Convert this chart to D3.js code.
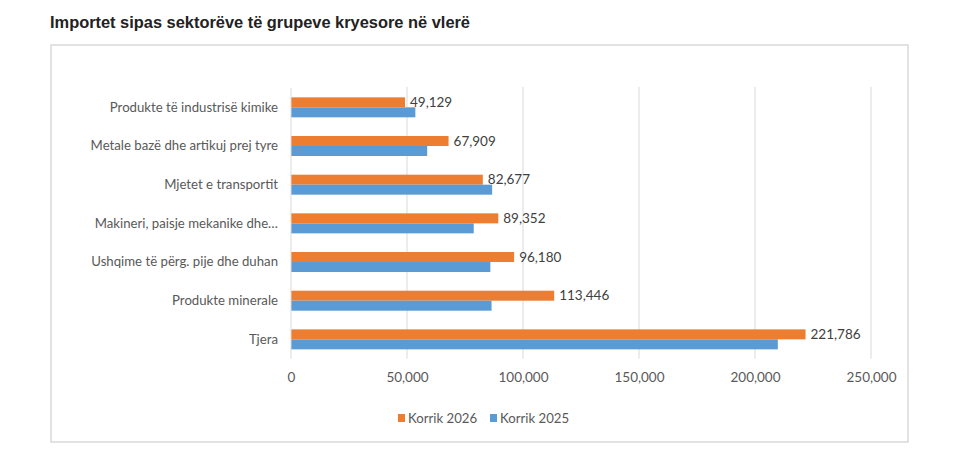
<!DOCTYPE html>
<html><head><meta charset="utf-8">
<script src="https://cdn.jsdelivr.net/npm/d3@7"></script>
<style>
body{margin:0;background:#fff;}
svg{display:block;}
</style></head>
<body>
<svg id="c" width="980" height="463"></svg>
<script>
const title = "Importet sipas sektorëve të grupeve kryesore në vlerë";
const categories = ["Produkte të industrisë kimike","Metale bazë dhe artikuj prej tyre","Mjetet e transportit","Makineri, paisje mekanike dhe…","Ushqime të përg. pije dhe duhan","Produkte minerale","Tjera"];
const seriesNames = ["Korrik 2026","Korrik 2025"];
const values2026 = [49129,67909,82677,89352,96180,113446,221786];
const values2025 = [53600,58700,86700,78760,85930,86450,209840];
const xTicks = [0,50000,100000,150000,200000,250000];
const colors = ["#ED7D31","#5B9BD5"];

const svg = d3.select("#c");
const font = "Lato, 'Open Sans', sans-serif";

svg.append("text").attr("x",50).attr("y",28).text(title)
  .attr("font-family","'Liberation Sans', Arial, sans-serif").attr("font-weight","bold")
  .attr("font-size",16.4).attr("fill","#222");

svg.append("rect").attr("x",51).attr("y",45).attr("width",857).attr("height",397)
  .attr("fill","none").attr("stroke","#d9d9d9").attr("stroke-width",1.5);

const x = d3.scaleLinear().domain([0,250000]).range([291,871]);
const y = d3.scaleBand().domain(categories).range([88,358.7]).paddingInner(0.483).paddingOuter(0.2415);
const ys = d3.scaleBand().domain(seriesNames).range([0,y.bandwidth()]);

// gridlines
svg.append("g").selectAll("line").data(xTicks.slice(1)).join("line")
  .attr("x1",d=>x(d)).attr("x2",d=>x(d)).attr("y1",87).attr("y2",358.7)
  .attr("stroke","#d9d9d9").attr("stroke-width",1);

const data = categories.map((c,i)=>({c, v:[values2026[i],values2025[i]]}));

const g = svg.append("g").selectAll("g").data(data).join("g")
  .attr("transform",d=>`translate(0,${y(d.c)})`);
g.selectAll("rect").data(d=>d.v.map((v,k)=>({v,k}))).join("rect")
  .attr("x",x(0)).attr("y",d=>ys(seriesNames[d.k]))
  .attr("width",d=>x(d.v)-x(0)).attr("height",ys.bandwidth())
  .attr("fill",d=>colors[d.k]);

// data labels for 2026
g.append("text").attr("x",d=>x(d.v[0])+5).attr("y",d=>ys(seriesNames[0])+ys.bandwidth()/2)
  .attr("dy","0.35em").text(d=>d3.format(",")(d.v[0]))
  .attr("font-family",font).attr("font-size",13.5).attr("fill","#404040");

// axis line
svg.append("line").attr("x1",x(0)).attr("x2",x(0)).attr("y1",88).attr("y2",358.7)
  .attr("stroke","#d9d9d9").attr("stroke-width",1);

// category axis labels
const yAxis = svg.append("g").attr("transform",`translate(${x(0)},0)`)
  .call(d3.axisLeft(y).tickSize(0).tickPadding(13));
yAxis.select(".domain").remove();
yAxis.selectAll("text").attr("font-family",font).attr("font-size",13.2).attr("fill","#595959");

// x axis
const xAxis = svg.append("g").attr("transform",`translate(0,358.7)`)
  .call(d3.axisBottom(x).tickValues(xTicks).tickFormat(d3.format(",")).tickSize(0).tickPadding(14));
xAxis.select(".domain").remove();
xAxis.selectAll("text").attr("font-family",font).attr("font-size",13.5).attr("fill","#595959");

// legend
const legX = [398,490];
const leg = svg.append("g").selectAll("g").data(seriesNames).join("g")
  .attr("transform",(d,i)=>`translate(${legX[i]},418)`);
leg.append("rect").attr("x",0).attr("y",-4).attr("width",7).attr("height",8).attr("fill",(d,i)=>colors[i]);
leg.append("text").attr("x",10).attr("dy","0.35em").text(d=>d)
  .attr("font-family",font).attr("font-size",13.2).attr("fill","#595959");
</script>
</body></html>
